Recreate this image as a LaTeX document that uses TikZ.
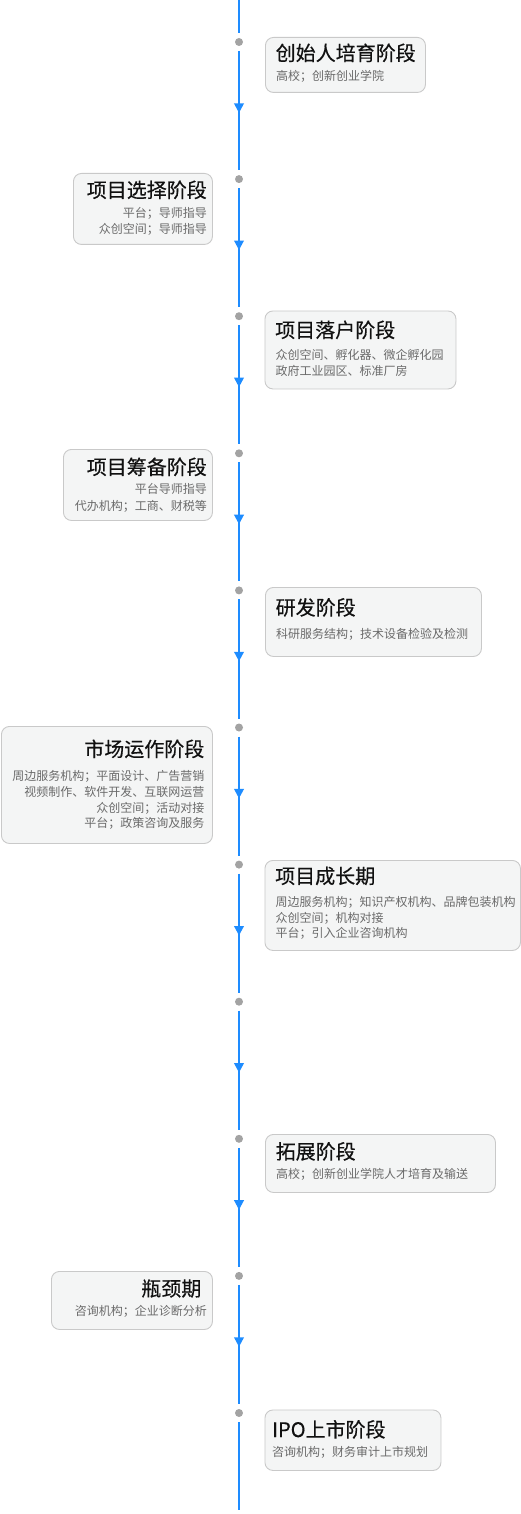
\documentclass[tikz,border=0pt]{standalone}
\usepackage{fontspec}
\newfontfamily\cjk{Noto Sans CJK SC}
\newfontfamily\cjktitle[FakeBold=0.4]{Noto Sans CJK SC}
\usetikzlibrary{arrows.meta,decorations.markings}
\definecolor{lineblue}{HTML}{1E8CFF}
\definecolor{dotgray}{HTML}{A3A3A3}
\definecolor{boxborder}{HTML}{C9C9C9}
\definecolor{boxfill}{HTML}{F4F5F5}
\definecolor{titlecol}{HTML}{111111}
\definecolor{subcol}{HTML}{6A6A6A}
\begin{document}
\begin{tikzpicture}[x=1pt,y=-1pt,
  stagebox/.style={draw=boxborder, fill=boxfill, rounded corners=8pt, line width=0.9pt, inner sep=0pt},
  ttl/.style={font=\cjktitle\fontsize{20}{24}\selectfont, text=titlecol, inner sep=0pt},
  sub/.style={font=\cjk\fontsize{12}{14}\selectfont, text=subcol, inner sep=0pt},
  dot/.style={circle, fill=dotgray, minimum size=8pt, inner sep=0pt, outer sep=5pt},
  plain/.style={draw=lineblue, line width=2pt},
  flow/.style={plain, postaction={decorate}, decoration={markings,
     mark=at position 0.52 with {\arrow[lineblue]{Triangle[width=9.5pt,length=9.5pt]}}}}]
\useasboundingbox (0,0) rectangle (521,1514);

% ---- timeline ----
\coordinate (top) at (239,0);
\coordinate (bot) at (239,1510);
\foreach \i in {0,...,10}{
  \node[dot] (d\i) at (239,{42+137.1*\i}) {};
}
\draw[plain] (top) -- (d0);
\foreach \i [evaluate=\i as \j using int(\i+1)] in {0,...,9}{
  \draw[flow] (d\i) -- (d\j);
}
\draw[plain] (d10) -- (bot);

% ---- box 1 ----
\node[stagebox, minimum width=160pt, minimum height=55pt, anchor=north west] (b1) at (265,37) {};
\node[ttl, anchor=base west] (t1) at (275.5,60.5) {创始人培育阶段};
\node[sub, anchor=base west] (s1a) at (276,81) {高校；创新创业学院};

% ---- box 2 ----
\node[stagebox, minimum width=139pt, minimum height=71pt, anchor=north west] (b2) at (73,173) {};
\node[ttl, anchor=base east] (t2) at (207,197.5) {项目选择阶段};
\node[sub, anchor=base east] (s2a) at (207,218) {平台；导师指导};
\node[sub, anchor=base east] (s2b) at (207,234) {众创空间；导师指导};

% ---- box 3 ----
\node[stagebox, minimum width=191pt, minimum height=78pt, anchor=north west] (b3) at (264.5,310.5) {};
\node[ttl, anchor=base west] (t3) at (275,337.5) {项目落户阶段};
\node[sub, anchor=base west] (s3a) at (275.5,359) {众创空间、孵化器、微企孵化园};
\node[sub, anchor=base west] (s3b) at (275.5,375) {政府工业园区、标准厂房};

% ---- box 4 ----
\node[stagebox, minimum width=149pt, minimum height=71pt, anchor=north west] (b4) at (63,449) {};
\node[ttl, anchor=base east] (t4) at (207,474.5) {项目筹备阶段};
\node[sub, anchor=base east] (s4a) at (207,493) {平台导师指导};
\node[sub, anchor=base east] (s4b) at (207,510) {代办机构；工商、财税等};

% ---- box 5 ----
\node[stagebox, minimum width=216pt, minimum height=69pt, anchor=north west] (b5) at (265,587) {};
\node[ttl, anchor=base west] (t5) at (275.5,615) {研发阶段};
\node[sub, anchor=base west] (s5a) at (276,638) {科研服务结构；技术设备检验及检测};

% ---- box 6 ----
\node[stagebox, minimum width=211pt, minimum height=117pt, anchor=north west] (b6) at (1,726) {};
\node[ttl, anchor=base east] (t6) at (204.5,756.5) {市场运作阶段};
\node[sub, anchor=base east] (s6a) at (204.5,780) {周边服务机构；平面设计、广告营销};
\node[sub, anchor=base east] (s6b) at (204.5,796) {视频制作、软件开发、互联网运营};
\node[sub, anchor=base east] (s6c) at (204.5,812) {众创空间；活动对接};
\node[sub, anchor=base east] (s6d) at (204.5,827.5) {平台；政策咨询及服务};

% ---- box 7 ----
\node[stagebox, minimum width=255.5pt, minimum height=90pt, anchor=north west] (b7) at (264.5,860) {};
\node[ttl, anchor=base west] (t7) at (275,883.5) {项目成长期};
\node[sub, anchor=base west] (s7a) at (275.5,906) {周边服务机构；知识产权机构、品牌包装机构};
\node[sub, anchor=base west] (s7b) at (275.5,922) {众创空间；机构对接};
\node[sub, anchor=base west] (s7c) at (275.5,937.5) {平台；引入企业咨询机构};

% ---- box 9 ----
\node[stagebox, minimum width=230pt, minimum height=58pt, anchor=north west] (b9) at (265,1134) {};
\node[ttl, anchor=base west] (t9) at (275.5,1159) {拓展阶段};
\node[sub, anchor=base west] (s9a) at (276,1178) {高校；创新创业学院人才培育及输送};

% ---- box 10 ----
\node[stagebox, minimum width=161pt, minimum height=58pt, anchor=north west] (b10) at (51,1271) {};
\node[ttl, anchor=base east] (t10) at (201.5,1296) {瓶颈期};
\node[sub, anchor=base east] (s10a) at (207,1315) {咨询机构；企业诊断分析};

% ---- box 11 ----
\node[stagebox, minimum width=176pt, minimum height=60.5pt, anchor=north west] (b11) at (264.5,1409.5) {};
\node[ttl, anchor=base west] (t11) at (272,1437) {IPO上市阶段};
\node[sub, anchor=base west] (s11a) at (272,1456) {咨询机构；财务审计上市规划};
\end{tikzpicture}
\end{document}
